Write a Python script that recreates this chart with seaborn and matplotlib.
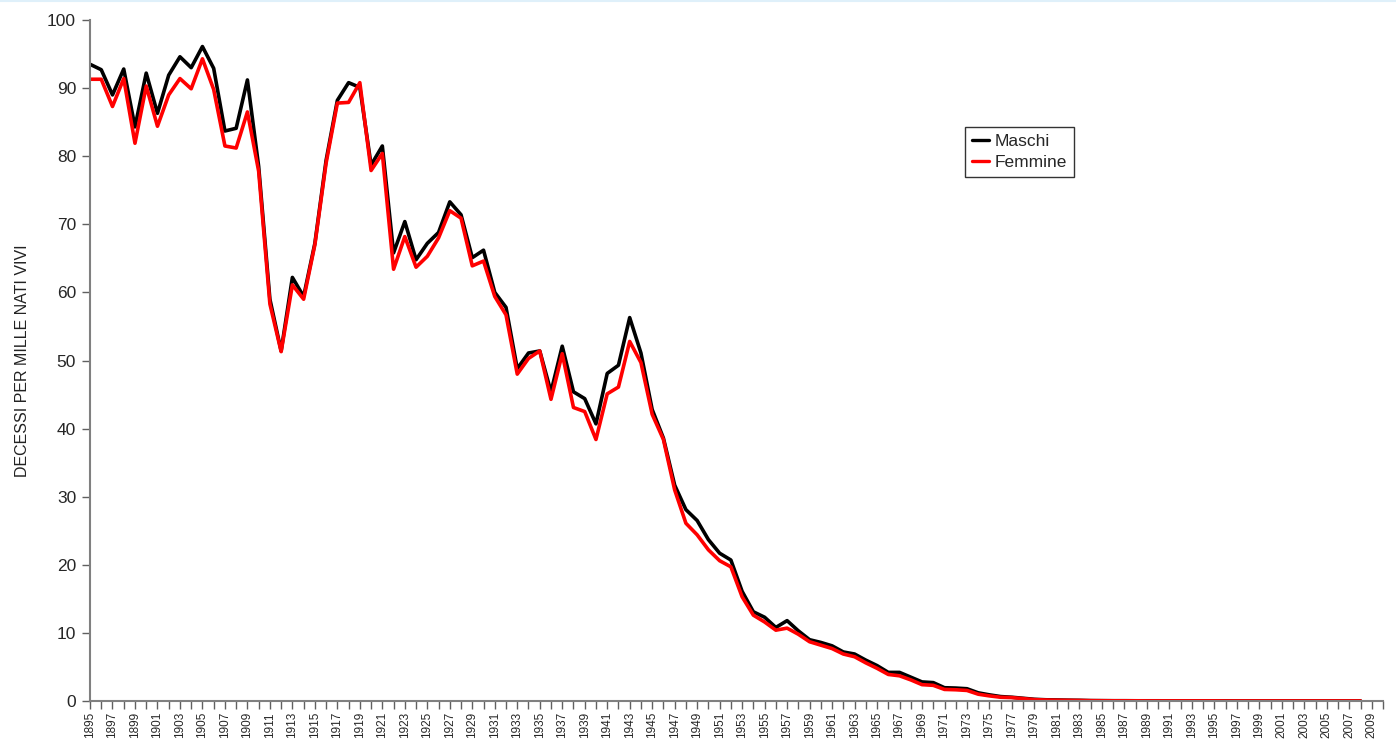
import matplotlib
matplotlib.use("Agg")
import matplotlib.pyplot as plt
import matplotlib.lines as mlines
import seaborn as sns
import pandas as pd
import numpy as np

years = list(range(1895, 2009))

maschi = [
    93.5, 92.7, 89.0, 92.8, 84.3, 92.2, 86.3, 91.9, 94.6, 93.0,  # 1895-1904
    96.1, 92.9, 83.7, 84.1, 91.2, 78.5, 59.0, 51.4, 62.2, 59.4,  # 1905-1914
    67.2, 79.4, 88.2, 90.8, 90.1, 78.7, 81.5, 65.8, 70.4, 64.8,  # 1915-1924
    67.2, 68.8, 73.3, 71.4, 65.1, 66.2, 60.0, 57.8, 48.8, 51.1,  # 1925-1934
    51.4, 45.4, 52.1, 45.4, 44.4, 40.7, 48.1, 49.3, 56.3, 51.1,  # 1935-1944
    42.8, 38.6, 31.7, 28.1, 26.5, 23.7, 21.7, 20.7, 16.1, 13.1,  # 1945-1954
    12.3, 10.8, 11.8, 10.3, 9.0, 8.6, 8.1, 7.2, 6.9, 6.0,        # 1955-1964
    5.2, 4.2, 4.2, 3.5, 2.8, 2.7, 1.95, 1.9, 1.8, 1.2,           # 1965-1974
    0.9, 0.65, 0.55, 0.4, 0.25, 0.18, 0.15, 0.12, 0.1, 0.06,     # 1975-1984
    0.05, 0.04, 0.04, 0.03, 0.03, 0.03, 0.02, 0.02, 0.02, 0.02,  # 1985-1994
    0.02, 0.02, 0.01, 0.01, 0.01, 0.01, 0.01, 0.01, 0.01, 0.01,  # 1995-2004
    0.01, 0.01, 0.01, 0.01,                                      # 2005-2008
]

femmine = [
    91.3, 91.3, 87.3, 91.4, 81.9, 90.3, 84.4, 89.0, 91.4, 89.9,
    94.3, 89.8, 81.5, 81.2, 86.5, 77.8, 58.3, 51.3, 61.1, 59.0,
    67.0, 79.0, 87.8, 87.9, 90.8, 77.9, 80.4, 63.4, 68.2, 63.7,
    65.3, 68.0, 72.0, 70.9, 63.9, 64.6, 59.4, 56.7, 48.0, 50.3,
    51.4, 44.3, 51.0, 43.1, 42.5, 38.4, 45.1, 46.1, 52.8, 49.7,
    42.1, 38.4, 31.0, 26.1, 24.4, 22.2, 20.6, 19.7, 15.3, 12.6,
    11.6, 10.4, 10.7, 9.8, 8.7, 8.2, 7.7, 6.9, 6.5, 5.6,
    4.8, 3.9, 3.7, 3.1, 2.4, 2.3, 1.7, 1.65, 1.55, 1.0,
    0.75, 0.55, 0.5, 0.35, 0.2, 0.15, 0.12, 0.1, 0.08, 0.05,
    0.04, 0.03, 0.03, 0.03, 0.02, 0.02, 0.02, 0.02, 0.02, 0.02,
    0.02, 0.01, 0.01, 0.01, 0.01, 0.01, 0.01, 0.01, 0.01, 0.01,
    0.01, 0.01, 0.01, 0.01,
]

series_names = ["Maschi", "Femmine"]
series_colors = ["#000000", "#ff0000"]
tick_years = list(range(1895, 2010, 2))
y_ticks = list(range(0, 101, 10))
y_label = "DECESSI PER MILLE NATI VIVI"

df = pd.DataFrame({
    "Anno": years * 2,
    "Valore": maschi + femmine,
    "Sesso": [series_names[0]] * len(years) + [series_names[1]] * len(years),
})

sns.set_theme(style="white")
plt.rcParams["font.family"] = ["Liberation Sans", "DejaVu Sans"]

fig = plt.figure(figsize=(13.96, 7.44), dpi=100)
ax = fig.add_axes([90 / 1396, 1 - 701 / 744, (1383 - 90) / 1396, (701 - 20) / 744])

sns.lineplot(data=df, x="Anno", y="Valore", hue="Sesso",
             palette=dict(zip(series_names, series_colors)),
             linewidth=2.6, ax=ax, legend=False, sort=True)

ax.set_xlim(1895, 2010)
ax.set_ylim(0, 100)
ax.set_xticks(tick_years)
ax.set_xticklabels([str(y) for y in tick_years], rotation=90, fontsize=8.5)
ax.set_xticks(list(range(1895, 2011)), minor=True)
ax.set_yticks(y_ticks)
ax.set_yticklabels([str(v) for v in y_ticks], fontsize=12.5)
ax.set_xlabel("")
ax.set_ylabel(y_label, fontsize=11.5, labelpad=12, color="#222222")

for s in ["top", "right"]:
    ax.spines[s].set_visible(False)
for s in ["left", "bottom"]:
    ax.spines[s].set_color("#808080")
    ax.spines[s].set_linewidth(1.5)

ax.tick_params(axis="x", which="both", direction="out", length=6, width=1,
               color="#606060", bottom=True, pad=2)
ax.tick_params(axis="y", which="major", direction="out", length=6, width=1,
               color="#606060", left=True, pad=4)
ax.grid(False)

handles = [mlines.Line2D([], [], color=c, linewidth=2.4) for c in series_colors]
leg = ax.legend(handles, series_names, loc="upper left",
                bbox_to_anchor=((965 - 90) / 1293, (701 - 127) / 681),
                frameon=True, fancybox=False, fontsize=12.5, handlelength=1.0,
                handletextpad=0.3, borderpad=0.4, labelspacing=0.35,
                borderaxespad=0)
leg.get_frame().set_edgecolor("#000000")
leg.get_frame().set_linewidth(1.0)

fig.add_artist(mlines.Line2D([0, 1], [0.999, 0.999], color="#dff0fa",
                             linewidth=1.5, transform=fig.transFigure))

fig.savefig("out.png", dpi=100)
